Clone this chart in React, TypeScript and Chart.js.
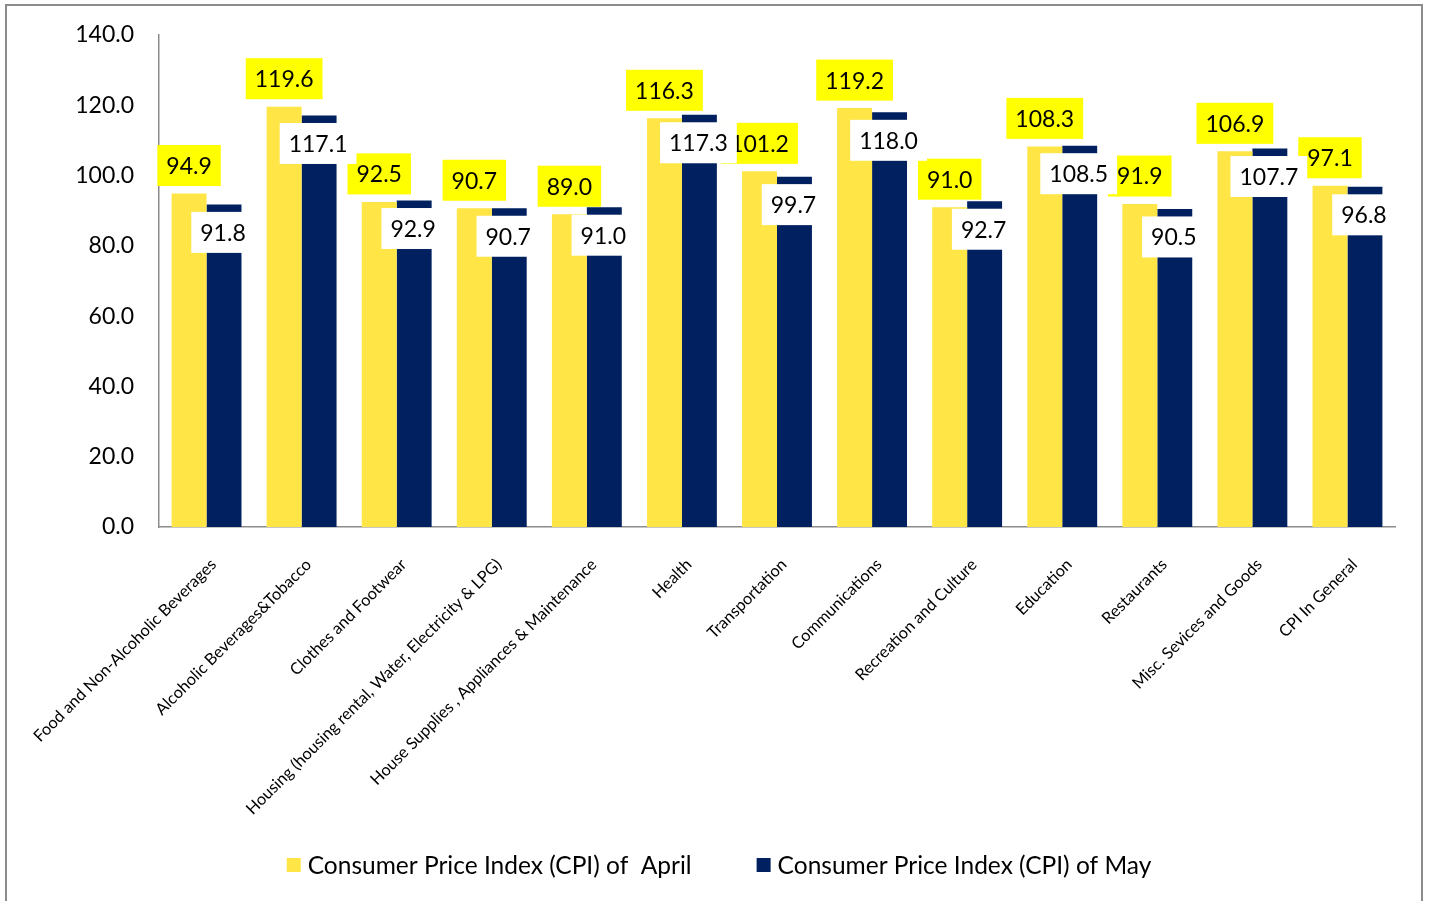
import React, { useEffect, useRef } from 'react';
import { Chart, registerables } from 'chart.js';

Chart.register(...registerables);

const categories = [
  'Food and Non-Alcoholic Beverages',
  'Alcoholic Beverages&Tobacco',
  'Clothes and Footwear',
  'Housing (housing rental, Water, Electricity & LPG)',
  'House Supplies , Appliances & Maintenance',
  'Health',
  'Transportation',
  'Communications',
  'Recreation and Culture',
  'Education',
  'Restaurants',
  'Misc. Sevices and Goods',
  'CPI In General',
];

const aprilValues = [94.9, 119.6, 92.5, 90.7, 89.0, 116.3, 101.2, 119.2, 91.0, 108.3, 91.9, 106.9, 97.1];
const mayValues = [91.8, 117.1, 92.9, 90.7, 91.0, 117.3, 99.7, 118.0, 92.7, 108.5, 90.5, 107.7, 96.8];

const seriesNames = ['Consumer Price Index (CPI) of  April', 'Consumer Price Index (CPI) of May'];
const seriesColors = ['#FFE545', '#00205F'];
const labelBackgrounds = ['#FFFF00', '#FFFFFF'];

const yMin = 0;
const yMax = 140;
const yStep = 20;

const FONT = 'Lato, "Open Sans", sans-serif';

const valueLabelPlugin = {
  id: 'valueLabels',
  afterDatasetsDraw(chart: any) {
    const ctx = chart.ctx;
    ctx.save();
    ctx.font = `23px ${FONT}`;
    ctx.textAlign = 'center';
    ctx.textBaseline = 'middle';
    const cfgs = [
      { ds: 0, dy: -28, dx: 0 },
      { ds: 1, dy: 28, dx: -1 },
    ];
    cfgs.forEach((cfg) => {
      const meta = chart.getDatasetMeta(cfg.ds);
      const data = chart.data.datasets[cfg.ds].data;
      meta.data.forEach((bar: any, i: number) => {
        const text = Number(data[i]).toFixed(1);
        const w = ctx.measureText(text).width + 18;
        const h = 41;
        const cx = bar.x + cfg.dx;
        const cy = bar.y + cfg.dy;
        ctx.fillStyle = labelBackgrounds[cfg.ds];
        ctx.fillRect(cx - w / 2, cy - h / 2, w, h);
        ctx.fillStyle = '#000';
        ctx.fillText(text, cx, cy + 1);
      });
    });
    ctx.restore();
  },
};

const legendPlugin = {
  id: 'customLegend',
  afterDraw(chart: any) {
    const ctx = chart.ctx;
    ctx.save();
    ctx.font = `24.5px ${FONT}`;
    ctx.textBaseline = 'middle';
    ctx.textAlign = 'left';
    const box = 14;
    const gap = 7;
    const spacing = 65;
    const widths = seriesNames.map((n) => box + gap + ctx.measureText(n).width);
    const total = widths.reduce((a, b) => a + b, 0) + spacing * (seriesNames.length - 1);
    let x = chart.width / 2 - total / 2 + 5;
    const y = chart.height - 36;
    seriesNames.forEach((n, i) => {
      ctx.fillStyle = seriesColors[i];
      ctx.fillRect(x, y - box / 2, box, box);
      ctx.fillStyle = '#000';
      ctx.fillText(n, x + box + gap, y + 1);
      x += widths[i] + spacing;
    });
    ctx.restore();
  },
};

export default function App() {
  const canvasRef = useRef<HTMLCanvasElement | null>(null);

  useEffect(() => {
    if (!canvasRef.current) return;
    const chart = new Chart(canvasRef.current, {
      type: 'bar',
      data: {
        labels: categories,
        datasets: [
          {
            label: seriesNames[0],
            data: aprilValues,
            backgroundColor: seriesColors[0],
            barPercentage: 1,
            categoryPercentage: 0.735,
          },
          {
            label: seriesNames[1],
            data: mayValues,
            backgroundColor: seriesColors[1],
            barPercentage: 1,
            categoryPercentage: 0.735,
          },
        ],
      },
      options: {
        animation: false,
        responsive: true,
        maintainAspectRatio: false,
        layout: { padding: { left: 0, right: 26, top: 29, bottom: 0 } },
        plugins: {
          legend: { display: false },
          tooltip: { enabled: false },
        },
        scales: {
          x: {
            grid: { display: false, drawTicks: false },
            border: { display: true, color: '#8C8C8C', width: 1.5 },
            ticks: {
              autoSkip: false,
              maxRotation: 45,
              minRotation: 45,
              padding: 28,
              labelOffset: 7,
              color: '#000',
              font: { family: FONT, size: 16.3 },
            },
            afterFit(scale: any) {
              scale.height = 374;
              scale.paddingLeft = 0;
              scale.paddingRight = 0;
              scale.paddingTop = 0;
              scale.paddingBottom = 0;
            },
          },
          y: {
            min: yMin,
            max: yMax,
            grid: { display: false, drawTicks: false },
            border: { display: true, color: '#8C8C8C', width: 1.5 },
            ticks: {
              stepSize: yStep,
              padding: 25,
              color: '#000',
              font: { family: FONT, size: 23 },
              callback: (v: any) => Number(v).toFixed(1),
            },
            afterFit(scale: any) {
              scale.width = 152;
              scale.paddingLeft = 0;
              scale.paddingRight = 0;
              scale.paddingTop = 0;
              scale.paddingBottom = 0;
            },
          },
        },
      },
      plugins: [valueLabelPlugin, legendPlugin],
    });
    return () => chart.destroy();
  }, []);

  return (
    <div
      style={{
        position: 'absolute',
        left: 5,
        top: 4,
        width: 1414,
        height: 895,
        borderTop: '2px solid #8C8C8C',
        borderLeft: '2px solid #8C8C8C',
        borderRight: '2px solid #8C8C8C',
        background: '#fff',
      }}
    >
      <div style={{ position: 'relative', width: 1414, height: 895 }}>
        <canvas ref={canvasRef} />
      </div>
    </div>
  );
}
